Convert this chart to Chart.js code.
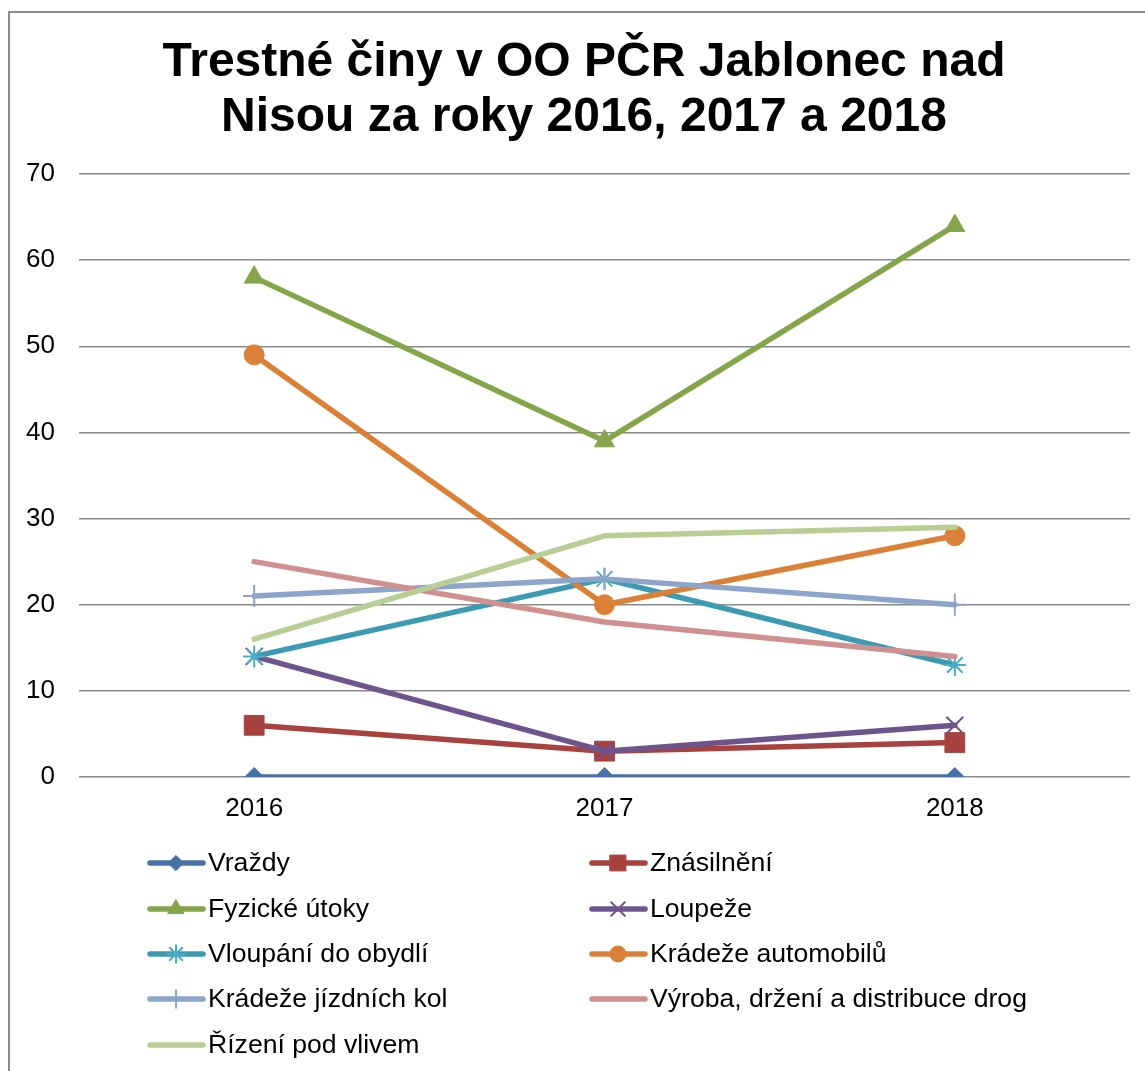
<!DOCTYPE html>
<html><head><meta charset="utf-8">
<script src="https://cdn.jsdelivr.net/npm/chart.js@4.4.1/dist/chart.umd.min.js"></script>
<style>html,body{margin:0;padding:0;background:#fff;overflow:hidden}canvas{display:block}</style>
</head><body>
<canvas id="c" width="1145" height="1071"></canvas>
<script>
const titleLines = ["Trestné činy v OO PČR Jablonec nad", "Nisou za roky 2016, 2017 a 2018"];
const years = ["2016", "2017", "2018"];
const seriesNames = ["Vraždy", "Znásilnění", "Fyzické útoky", "Loupeže", "Vloupání do obydlí",
  "Krádeže automobilů", "Krádeže jízdních kol", "Výroba, držení a distribuce drog", "Řízení pod vlivem"];
const vrazdy = [0, 0, 0];
const znasilneni = [6, 3, 4];
const fyzickeUtoky = [58, 39, 64];
const loupeze = [14, 3, 6];
const vloupani = [14, 23, 13];
const kradezeAut = [49, 20, 28];
const kradezeKol = [21, 23, 20];
const drogy = [25, 18, 14];
const rizeni = [16, 28, 29];
const yMin = 0, yMax = 70, yStep = 10;

const seriesValues = [vrazdy, znasilneni, fyzickeUtoky, loupeze, vloupani, kradezeAut, kradezeKol, drogy, rizeni];
const colors = ['#4672A8', '#A8423F', '#86A44A', '#6E548D', '#3C9AB2', '#DA8137', '#8EA5CB', '#D09090', '#B8CE94'];
const markerColors = ['#4672A8', '#A8423F', '#86A44A', '#6E548D', '#4BACC6', '#DA8137', '#8EA5CB', '#D09090', '#B8CE94'];
const styles = ['rectRot', 'rect', 'triangle', 'crossRot', 'star', 'circle', 'cross', false, false];
const radii = [9.5, 14, 11.5, 12, 11, 10, 11, 0, 0];
const FONT = "'Liberation Sans', Arial, sans-serif";

const datasets = seriesNames.map((name, i) => ({
  label: name,
  data: seriesValues[i],
  borderColor: colors[i],
  backgroundColor: colors[i],
  borderWidth: 5.5,
  borderCapStyle: 'round',
  borderJoinStyle: 'round',
  pointStyle: styles[i] || 'circle',
  pointRadius: radii[i],
  pointHoverRadius: radii[i],
  pointBackgroundColor: markerColors[i],
  pointBorderColor: markerColors[i],
  pointBorderWidth: (styles[i] === 'crossRot' || styles[i] === 'star' || styles[i] === 'cross') ? 2 : 1,
  tension: 0,
  order: seriesNames.length - 1 - i
}));

const decor = {
  id: 'decor',
  beforeDraw(chart) {
    const ctx = chart.ctx;
    ctx.save();
    ctx.fillStyle = '#fff';
    ctx.fillRect(0, 0, chart.width, chart.height);
    ctx.strokeStyle = '#8c8c8c';
    ctx.lineWidth = 2;
    ctx.strokeRect(9, 12, 1400, 1400);
    ctx.restore();
  },
  afterDraw(chart) {
    const ctx = chart.ctx;
    ctx.save();
    ctx.fillStyle = '#000';
    ctx.font = "bold 48px " + FONT;
    ctx.textAlign = 'center';
    ctx.textBaseline = 'alphabetic';
    ctx.fillText(titleLines[0], 584, 76);
    ctx.fillText(titleLines[1], 584, 131);
    // legend
    const cols = [148, 590];
    const rows = [863, 909, 954, 999, 1045];
    chart.data.datasets.forEach((ds, i) => {
      const x0 = cols[i % 2], y = rows[Math.floor(i / 2)];
      ctx.strokeStyle = ds.borderColor;
      ctx.lineWidth = 5.5;
      ctx.lineCap = 'round';
      ctx.beginPath();
      ctx.moveTo(x0 + 2, y);
      ctx.lineTo(x0 + 55, y);
      ctx.stroke();
      if (ds.pointRadius > 0) {
        ctx.fillStyle = ds.pointBackgroundColor;
        ctx.strokeStyle = ds.pointBorderColor;
        ctx.lineWidth = ds.pointBorderWidth;
        Chart.helpers.drawPoint(ctx, {
          pointStyle: ds.pointStyle,
          radius: ds.pointRadius * 0.8,
          rotation: 0,
          borderWidth: ds.pointBorderWidth
        }, x0 + 28, y);
      }
      ctx.fillStyle = '#000';
      ctx.font = "26.6px " + FONT;
      ctx.textAlign = 'left';
      ctx.textBaseline = 'middle';
      ctx.fillText(ds.label, x0 + 60, y + 1);
    });
    ctx.restore();
  }
};

new Chart(document.getElementById('c'), {
  type: 'line',
  data: { labels: years, datasets },
  options: {
    responsive: false,
    animation: false,
    events: [],
    layout: { padding: { left: 0, right: 14, top: 174, bottom: 234 } },
    plugins: { legend: { display: false }, title: { display: false }, tooltip: { enabled: false } },
    scales: {
      x: {
        offset: true,
        grid: { display: false, drawTicks: false },
        border: { display: false },
        ticks: { font: { family: FONT, size: 26 }, color: '#000', padding: 16 },
        afterFit: s => { s.height = 60; }
      },
      y: {
        min: yMin, max: yMax,
        ticks: { stepSize: yStep, font: { family: FONT, size: 26 }, color: '#000', padding: 24 },
        grid: { color: '#8a8a8a', lineWidth: 1.5, drawTicks: false },
        border: { display: false },
        afterFit: s => { s.width = 79; }
      }
    }
  },
  plugins: [decor]
});
</script>
</body></html>
